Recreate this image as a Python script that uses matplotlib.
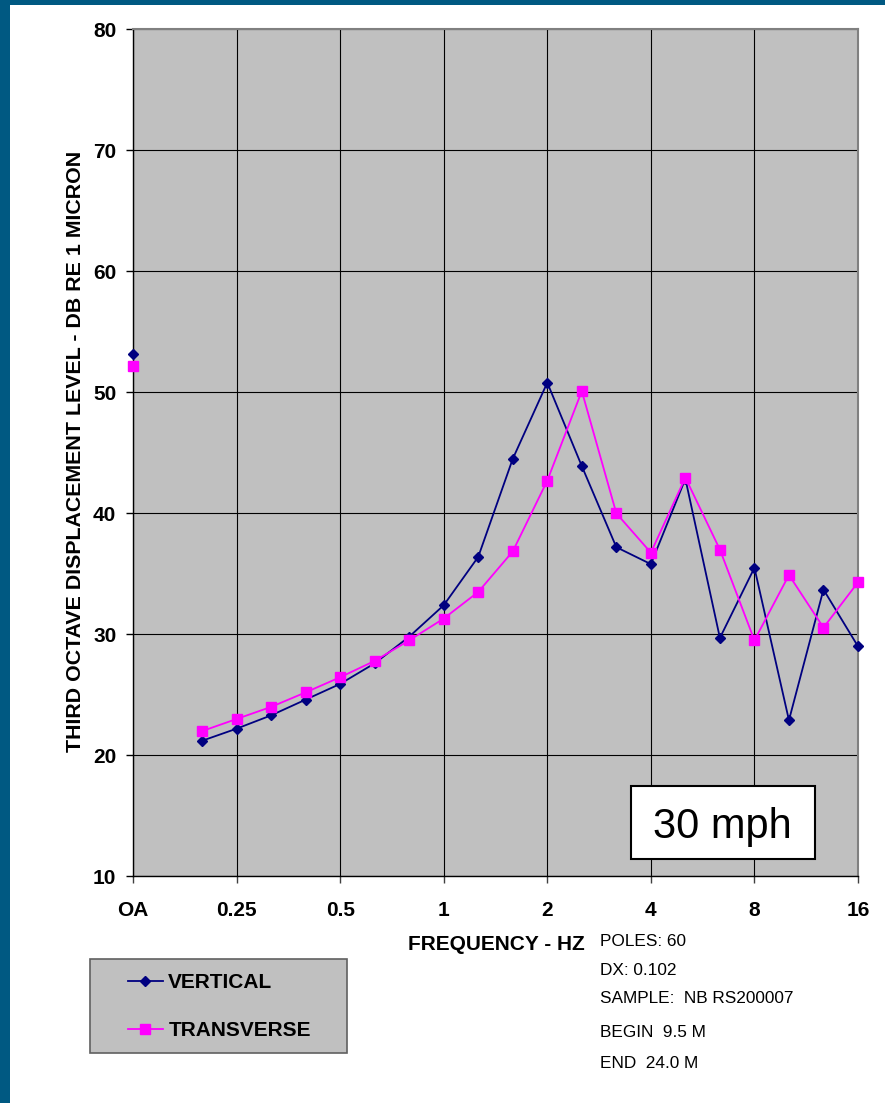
import numpy as np
import matplotlib
matplotlib.use('Agg')
import matplotlib.pyplot as plt
from matplotlib.patches import Rectangle

plt.rcParams['font.family'] = ['Liberation Sans', 'DejaVu Sans']

# ---- data ----
categories = ['OA', '', '0.2', '0.25', '0.315', '0.4', '0.5', '0.63', '0.8', '1',
              '1.25', '1.6', '2', '2.5', '3.15', '4', '5', '6.3', '8', '10', '12.5', '16']
vertical = [53.2, np.nan, 21.2, 22.2, 23.3, 24.6, 25.9, 27.6, 29.8, 32.4,
            36.4, 44.5, 50.8, 43.9, 37.2, 35.8, 42.85, 29.7, 35.5, 22.9, 33.7, 29.0]
transverse = [52.2, np.nan, 22.0, 23.0, 24.0, 25.2, 26.45, 27.8, 29.5, 31.3,
              33.5, 36.85, 42.7, 50.1, 40.0, 36.75, 42.95, 37.0, 29.5, 34.9, 30.55, 34.3]
tick_labels = ['OA', '0.25', '0.5', '1', '2', '4', '8', '16']
y_ticks = [10, 20, 30, 40, 50, 60, 70, 80]
series_names = ['VERTICAL', 'TRANSVERSE']
notes = ['POLES: 60', 'DX: 0.102', 'SAMPLE:  NB RS200007', 'BEGIN  9.5 M', 'END  24.0 M']
speed_label = '30 mph'

W, H = 885, 1103
fig = plt.figure(figsize=(W / 100, H / 100), dpi=100)
fig.patch.set_facecolor('white')

def fx(px):
    return px / W

def fy(py):
    return 1 - py / H

# blue frame (top and left)
border = '#005982'
fig.patches.append(Rectangle((0, fy(5)), 1, 5 / H, transform=fig.transFigure,
                             facecolor=border, edgecolor='none', zorder=0))
fig.patches.append(Rectangle((0, 0), 10 / W, 1, transform=fig.transFigure,
                             facecolor=border, edgecolor='none', zorder=0))

ax = fig.add_axes([fx(133), fy(876.3), (858 - 133) / W, (876.3 - 29.3) / H])
ax.set_facecolor('#C0C0C0')

x = np.arange(len(categories))
l1, = ax.plot(x, vertical, color='#000080', lw=1.3, marker='D', ms=5.5,
              mfc='#000080', mec='#000080', clip_on=False, zorder=3)
l2, = ax.plot(x, transverse, color='#FF00FF', lw=1.3, marker='s', ms=7,
              mfc='#FF00FF', mec='#FF00FF', clip_on=False, zorder=4)

ax.set_xlim(0, len(categories) - 1)
ax.set_ylim(10, 80)
tick_pos = [i for i, c in enumerate(categories) if c in tick_labels]
ax.set_xticks(tick_pos)
ax.set_xticklabels([categories[i] for i in tick_pos], fontsize=15, fontweight='bold')
ax.set_yticks(y_ticks)
ax.set_yticklabels([str(v) for v in y_ticks], fontsize=15, fontweight='bold')
ax.tick_params(axis='y', direction='out', length=5, width=1, color='#000000', pad=7)
ax.tick_params(axis='x', direction='out', length=5, width=1, color='#404040', pad=13)

ax.grid(True, color='#000000', lw=0.8)
ax.set_axisbelow(True)

for s in ['top', 'right']:
    ax.spines[s].set_color('#808080')
    ax.spines[s].set_linewidth(1.5)
for s in ['left', 'bottom']:
    ax.spines[s].set_color('#000000')
    ax.spines[s].set_linewidth(1.0)

ax.set_ylabel('THIRD OCTAVE DISPLACEMENT LEVEL - DB RE 1 MICRON',
              fontsize=15.4, fontweight='bold', va='center')
ax.yaxis.set_label_coords(fx(75.3), fy(451.5), transform=fig.transFigure)
ax.set_xlabel('FREQUENCY - HZ', fontsize=15, fontweight='bold', va='baseline')
ax.xaxis.set_label_coords(fx(496.3), fy(950), transform=fig.transFigure)

# speed box
fig.patches.append(Rectangle((fx(630.7), fy(859.3)), 184.3 / W, 73.6 / H,
                             transform=fig.transFigure, facecolor='white',
                             edgecolor='black', lw=1.5, zorder=5))
fig.text(fx(722.8), fy(838.3), speed_label, fontsize=30, ha='center',
         va='baseline', zorder=6)

# notes
note_baselines = [945.7, 975, 1003.3, 1036.7, 1067.7]
for t, b in zip(notes, note_baselines):
    fig.text(fx(600), fy(b), t, fontsize=12.4, ha='left', va='baseline')

# legend box
fig.patches.append(Rectangle((fx(90), fy(1052.7)), (346.7 - 90) / W, (1052.7 - 959) / H,
                             transform=fig.transFigure, facecolor='#C0C0C0',
                             edgecolor='#606060', lw=1.2, zorder=1))
leg = fig.legend([l1, l2], series_names, loc='center left',
                 bbox_to_anchor=(fx(127.7), fy(1006.5)), bbox_transform=fig.transFigure,
                 frameon=False, borderpad=0, borderaxespad=0, handlelength=1.68,
                 handletextpad=0.27, labelspacing=1.4, numpoints=1,
                 prop={'size': 15, 'weight': 'bold'})
leg.set_zorder(3)

fig.savefig('out.png', dpi=100)
